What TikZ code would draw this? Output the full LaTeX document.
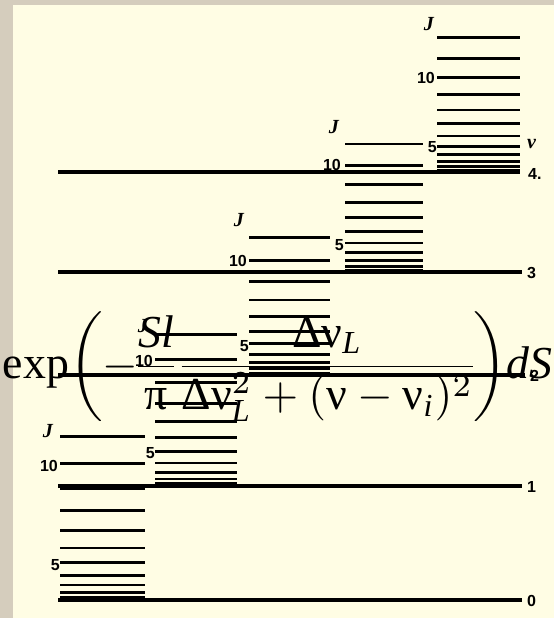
\documentclass[tikz,border=0pt]{standalone}
\usepackage{amsmath}
\usepackage{fontspec}
\setmainfont{Liberation Serif}
\setsansfont{Liberation Sans}
\usetikzlibrary{positioning}

\definecolor{paper}{HTML}{FFFDE4}
\definecolor{frame}{HTML}{D5CDBD}

% upright Greek from the text font
\newcommand{\Gnu}{\text{ν}}
\newcommand{\GDelta}{\text{Δ}}
\newcommand{\Gpi}{\text{π}}

\begin{document}
\begin{tikzpicture}[
  x=1pt, y=-1pt,
  vlevel/.style={line width=3.4pt},
  rung/.style={line width=2.7pt},
  num/.style={font=\sffamily\bfseries\fontsize{16}{16}\selectfont, inner sep=0pt},
  jlab/.style={font=\bfseries\itshape\fontsize{20}{20}\selectfont, inner sep=0pt},
]
  % Paper and frame
  \fill[frame] (0,0) rectangle (554,618);
  \fill[paper] (13,5) rectangle (554,618);
  \useasboundingbox (0,0) rectangle (554,618);

  % Vibrational levels
  \draw[vlevel] (58,600) -- (522,600);
  \draw[vlevel] (58,486) -- (522,486);
  \draw[vlevel] (58,375) -- (525,375);
  \draw[vlevel] (58,272) -- (522,272);
  \draw[vlevel] (58,172) -- (520,172);
  \node[num, anchor=west] (n0) at (527,601) {0};
  \node[num, anchor=west] (n1) at (527,487) {1};
  \node[num, anchor=west] (n2) at (530,376) {2};
  \node[num, anchor=west] (n3) at (527,273) {3};
  \node[num, anchor=west] (n4) at (528,174) {4.};
  \node[jlab, anchor=west] (vib) at (527,144) {v};

  % Rotational ladder on v = 0
  \foreach \J in {1,...,11}
    \draw[rung] (60,{600-1.24*\J*(\J+1)}) -- (145,{600-1.24*\J*(\J+1)});
  \node[jlab, anchor=east] (J0) at (53,431) {J};
  \node[num, anchor=east] (ten0) at (58,466) {10};
  \node[num, anchor=east] (five0) at (60,565) {5};

  % Rotational ladder on v = 1
  \foreach \J in {1,...,11}
    \draw[rung] (155,{486-1.15*\J*(\J+1)}) -- (237,{486-1.15*\J*(\J+1)});
  \node[jlab, anchor=east] (J1) at (148,326) {J};
  \node[num, anchor=east] (ten1) at (153,361) {10};
  \node[num, anchor=east] (five1) at (155,453) {5};

  % Rotational ladder on v = 2
  \foreach \J in {1,...,11}
    \draw[rung] (249,{375-1.04*\J*(\J+1)}) -- (330,{375-1.04*\J*(\J+1)});
  \node[jlab, anchor=east] (J2) at (244,220) {J};
  \node[num, anchor=east] (ten2) at (247,261) {10};
  \node[num, anchor=east] (five2) at (249,346) {5};

  % Rotational ladder on v = 3
  \foreach \J in {1,...,11}
    \draw[rung] (345,{272-0.97*\J*(\J+1)}) -- (423,{272-0.97*\J*(\J+1)});
  \node[jlab, anchor=east] (J3) at (339,127) {J};
  \node[num, anchor=east] (ten3) at (341,165) {10};
  \node[num, anchor=east] (five3) at (344,245) {5};

  % Rotational ladder on v = 4
  \foreach \J in {1,...,12}
    \draw[rung] (437,{172-0.86*\J*(\J+1)}) -- (520,{172-0.86*\J*(\J+1)});
  \node[jlab, anchor=east] (J4) at (434,24) {J};
  \node[num, anchor=east] (ten4) at (435,78) {10};
  \node[num, anchor=east] (five4) at (437,147) {5};

  % Line shape formula laid over the diagram
  \node[scale=4.58, inner sep=0pt, anchor=base west] (formula) at (2,378)
    {\nulldelimiterspace=0pt
     $\text{exp}\!\left(-\dfrac{\textit{Sl}}{\Gpi}\,\dfrac{\GDelta\Gnu_{\textit{L}}}{\GDelta\Gnu_{\textit{L}}^{2}+(\Gnu-\Gnu_{\textit{i}})^{2}}\right)\!\textit{dS}$};
\end{tikzpicture}
\end{document}
